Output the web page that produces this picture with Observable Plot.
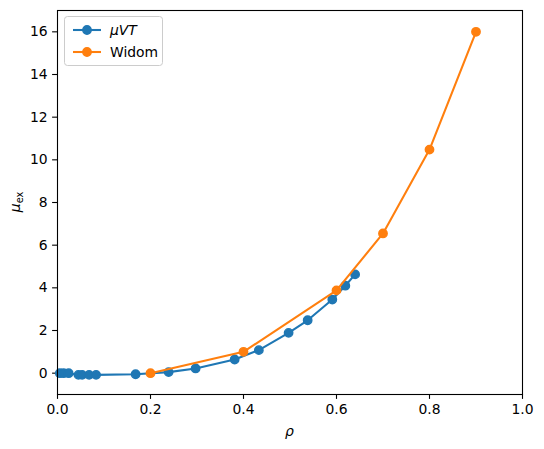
<!DOCTYPE html>
<html><head><meta charset="utf-8">
<script src="https://cdn.jsdelivr.net/npm/d3@7"></script>
<script src="https://cdn.jsdelivr.net/npm/@observablehq/plot@0.6"></script>
<style>body{margin:0;background:#fff;overflow:hidden} svg{font-family:"DejaVu Sans",sans-serif}</style>
</head><body><div id="chart"></div>
<script>
const muvtRho = [0.005, 0.013, 0.024, 0.045, 0.053, 0.068, 0.083, 0.168, 0.239, 0.297, 0.381, 0.433, 0.497, 0.538, 0.591, 0.619, 0.640];
const muvtMu  = [0.0, 0.0, 0.0, -0.08, -0.08, -0.08, -0.08, -0.05, 0.05, 0.22, 0.64, 1.08, 1.89, 2.48, 3.45, 4.10, 4.63];
const widomRho = [0.2, 0.4, 0.6, 0.7, 0.8, 0.9];
const widomMu  = [0.0, 1.0, 3.88, 6.55, 10.48, 16.0];
const xTicks = [0, 0.2, 0.4, 0.6, 0.8, 1.0];
const yTicks = [0, 2, 4, 6, 8, 10, 12, 14, 16];
const seriesNames = ["μVT", "Widom"];
const colors = ["#1f77b4", "#ff7f0e"];

const muvt = muvtRho.map((r, i) => ({rho: r, mu: muvtMu[i]}));
const widom = widomRho.map((r, i) => ({rho: r, mu: widomMu[i]}));

const W = 544, H = 449;
const plot = Plot.plot({
  width: W, height: H,
  marginLeft: 57, marginRight: 22, marginTop: 10, marginBottom: 55,
  style: {fontFamily: "DejaVu Sans, sans-serif", fontSize: "13.9px", color: "black", background: "white"},
  x: {domain: [0, 1]},
  y: {domain: [-1, 17]},
  marks: [
    Plot.axisX({ticks: xTicks, tickFormat: d => d.toFixed(1), tickSize: 4.9, tickPadding: 4.9, label: null, strokeWidth: 1.1, fontSize: 13.9}),
    Plot.axisY({ticks: yTicks, tickFormat: d => String(d), tickSize: 4.9, tickPadding: 4.9, label: null, strokeWidth: 1.1, fontSize: 13.9}),
    Plot.line(muvt, {x: "rho", y: "mu", stroke: colors[0], strokeWidth: 2.08}),
    Plot.dot(muvt, {x: "rho", y: "mu", fill: colors[0], stroke: colors[0], strokeWidth: 1.39, r: 4.2}),
    Plot.line(widom, {x: "rho", y: "mu", stroke: colors[1], strokeWidth: 2.08}),
    Plot.dot(widom, {x: "rho", y: "mu", fill: colors[1], stroke: colors[1], strokeWidth: 1.39, r: 4.2}),
    Plot.frame({stroke: "black", strokeWidth: 1.1})
  ]
});
document.getElementById("chart").appendChild(plot);

const svg = d3.select(plot);
// axis labels
svg.append("text").attr("x", 289.5).attr("y", 436).attr("text-anchor", "middle")
  .attr("font-size", 13.9).attr("font-style", "italic").text("ρ");
const yl = svg.append("text").attr("transform", "translate(20,202) rotate(-90)")
  .attr("text-anchor", "middle").attr("font-size", 13.9);
yl.append("tspan").attr("font-style", "italic").text("μ");
yl.append("tspan").attr("font-size", 9.7).attr("dy", 3).text("ex");

// legend
const lg = svg.append("g").attr("text-anchor", "start");
lg.append("rect").attr("x", 64.5).attr("y", 16.5).attr("width", 98).attr("height", 49)
  .attr("rx", 3).attr("fill", "white").attr("fill-opacity", 0.8).attr("stroke", "#cccccc");
seriesNames.forEach((name, i) => {
  const cy = 30 + i * 22;
  lg.append("line").attr("x1", 73).attr("x2", 101).attr("y1", cy).attr("y2", cy)
    .attr("stroke", colors[i]).attr("stroke-width", 2.08);
  lg.append("circle").attr("cx", 87).attr("cy", cy).attr("r", 4.2).attr("fill", colors[i])
    .attr("stroke", colors[i]).attr("stroke-width", 1.39);
  const t = lg.append("text").attr("x", 110).attr("y", cy + 5).attr("font-size", 13.9);
  if (i === 0) t.attr("font-style", "italic").text(name);
  else t.text(name);
});
</script></body></html>
